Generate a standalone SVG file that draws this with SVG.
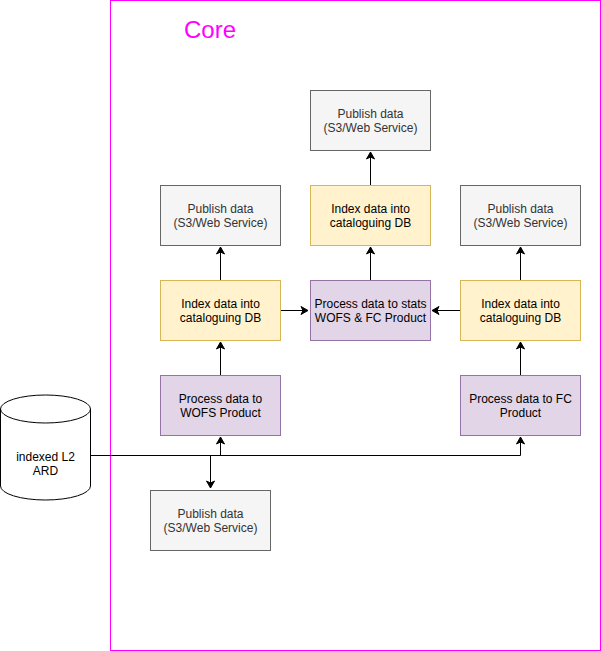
<svg xmlns="http://www.w3.org/2000/svg" width="601" height="651" viewBox="0 0 601 651">
<defs>
<marker id="arr" markerWidth="10" markerHeight="10" refX="8" refY="5" orient="auto" markerUnits="userSpaceOnUse">
<path d="M1,1 L8,5 L1,9 L3,5 Z" fill="#000" stroke="#000" stroke-width="1"/>
</marker>
<style>
.t{font-family:"Liberation Sans",Arial,sans-serif;font-size:12px;text-anchor:middle}
.g rect{fill:#f5f5f5;stroke:#666666}
.g text{fill:#333333}
.y rect{fill:#fff2cc;stroke:#d6b656}
.p rect{fill:#e1d5e7;stroke:#9673a6}
.y text,.p text{fill:#000}
.c{fill:none;stroke:#000;stroke-width:1}
</style>
</defs>
<rect width="601" height="651" fill="#fff"/>
<g id="core">
<rect x="110.5" y="0.5" width="490" height="650" fill="none" stroke="#FF00FF"/>
<text x="210" y="38" font-family="Liberation Sans,Arial,sans-serif" font-size="24" fill="#FF00FF" text-anchor="middle">Core</text>
</g>
<g id="connectors">
<path class="c" d="M90,455.5 H520.5 V437" marker-end="url(#arr)"/>
<path class="c" d="M220.5,455.5 V437" marker-end="url(#arr)"/>
<path class="c" d="M210.5,455.5 V488" marker-end="url(#arr)"/>
<path class="c" d="M220.5,375 V342" marker-end="url(#arr)"/>
<path class="c" d="M220.5,280 V247" marker-end="url(#arr)"/>
<path class="c" d="M520.5,375 V342" marker-end="url(#arr)"/>
<path class="c" d="M520.5,280 V247" marker-end="url(#arr)"/>
<path class="c" d="M280,310.5 H308" marker-end="url(#arr)"/>
<path class="c" d="M460,310.5 H432" marker-end="url(#arr)"/>
<path class="c" d="M370.5,280 V247" marker-end="url(#arr)"/>
<path class="c" d="M370.5,185 V152" marker-end="url(#arr)"/>
</g>
<g id="ard">
<path d="M0.5,409 A45,14 0 0 1 90.5,409 V486 A45,14 0 0 1 0.5,486 Z" fill="#fff" stroke="#000"/>
<path d="M0.5,409 A45,14 0 0 0 90.5,409" fill="none" stroke="#000"/>
<text class="t" x="45.5" y="461">indexed L2</text>
<text class="t" x="45.5" y="475">ARD</text>
</g>
<g id="publish-left" class="g">
<rect x="160.5" y="185.5" width="120" height="60"/>
<text class="t" x="220.5" y="213">Publish data</text>
<text class="t" x="220.5" y="227">(S3/Web Service)</text>
</g>
<g id="index-left" class="y">
<rect x="160.5" y="280.5" width="120" height="60"/>
<text class="t" x="220.5" y="308">Index data into</text>
<text class="t" x="220.5" y="322">cataloguing DB</text>
</g>
<g id="process-wofs" class="p">
<rect x="160.5" y="375.5" width="120" height="60"/>
<text class="t" x="220.5" y="403">Process data to</text>
<text class="t" x="220.5" y="417">WOFS Product</text>
</g>
<g id="publish-top" class="g">
<rect x="310.5" y="90.5" width="120" height="60"/>
<text class="t" x="370.5" y="118">Publish data</text>
<text class="t" x="370.5" y="132">(S3/Web Service)</text>
</g>
<g id="index-mid" class="y">
<rect x="310.5" y="185.5" width="120" height="60"/>
<text class="t" x="370.5" y="213">Index data into</text>
<text class="t" x="370.5" y="227">cataloguing DB</text>
</g>
<g id="process-stats" class="p">
<rect x="310.5" y="280.5" width="120" height="60"/>
<text class="t" x="370.5" y="308">Process data to stats</text>
<text class="t" x="370.5" y="322">WOFS &amp; FC Product</text>
</g>
<g id="publish-right" class="g">
<rect x="460.5" y="185.5" width="120" height="60"/>
<text class="t" x="520.5" y="213">Publish data</text>
<text class="t" x="520.5" y="227">(S3/Web Service)</text>
</g>
<g id="index-right" class="y">
<rect x="460.5" y="280.5" width="120" height="60"/>
<text class="t" x="520.5" y="308">Index data into</text>
<text class="t" x="520.5" y="322">cataloguing DB</text>
</g>
<g id="process-fc" class="p">
<rect x="460.5" y="375.5" width="120" height="60"/>
<text class="t" x="520.5" y="403">Process data to FC</text>
<text class="t" x="520.5" y="417">Product</text>
</g>
<g id="publish-bottom" class="g">
<rect x="150.5" y="490.5" width="120" height="60"/>
<text class="t" x="210.5" y="518">Publish data</text>
<text class="t" x="210.5" y="532">(S3/Web Service)</text>
</g>
</svg>
